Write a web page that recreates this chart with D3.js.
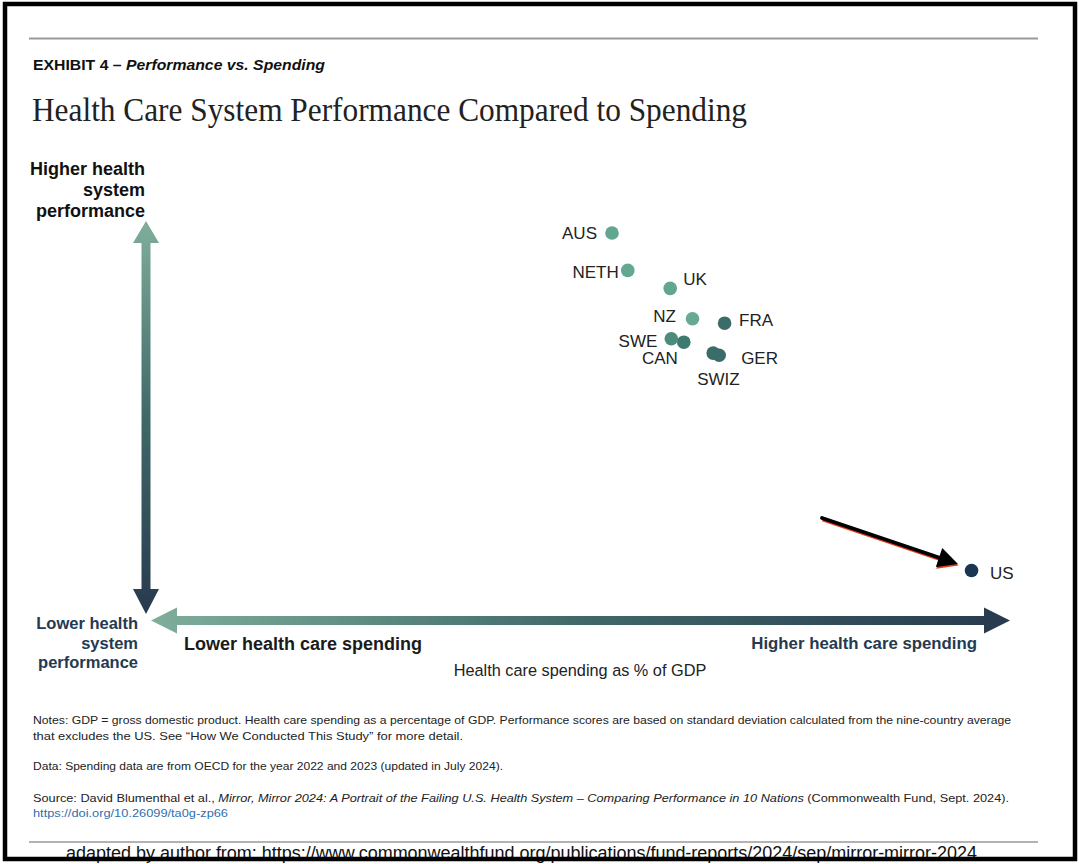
<!DOCTYPE html>
<html><head><meta charset="utf-8">
<script src="https://cdn.jsdelivr.net/npm/d3@7"></script>
<style>body{margin:0;background:#fff}svg{display:block}</style>
</head><body>
<script>
// ---- data ----
const countries = ["AUS","NETH","UK","NZ","FRA","SWE","CAN","SWIZ","GER","US"];
const spending  = [10.00, 10.29, 11.07, 11.48, 12.07, 11.09, 11.32, 11.86, 11.97, 16.61]; // % of GDP
const performance = [0.45, 0.20, 0.08, -0.123, -0.153, -0.257, -0.28, -0.353, -0.367, -1.807];
const pointColors = ["#62a590","#64a792","#62a590","#66a994","#3b6c68","#4c8b7b","#3f7a70","#3a6d69","#3a6d69","#1b3552"];
// label placement (layout only)
const labelDx = [-15, -9, 13, -16.5, 14.5, -14, -6, -16, 22, 18.5];
const labelDy = [6, 8, -3, 3.5, 3, 8.5, 22, 32, 9, 8];
const labelAnchor = ["end","end","start","end","start","end","end","start","start","start"];

const W = 1079, H = 864;
const svg = d3.select("body").append("svg").attr("width", W).attr("height", H)
  .style("font-family", "'Liberation Sans', Arial, sans-serif");

const x = d3.scaleLinear().domain([10, 16.6]).range([612, 971]);
const y = d3.scaleLinear().domain([-1.81, 0.45]).range([571, 233]);

const defs = svg.append("defs");
const gv = defs.append("linearGradient").attr("id","gv").attr("x1",0).attr("y1",0).attr("x2",0).attr("y2",1);
gv.append("stop").attr("offset","0%").attr("stop-color","#80ae9b");
gv.append("stop").attr("offset","50%").attr("stop-color","#3f6868");
gv.append("stop").attr("offset","100%").attr("stop-color","#283a4e");
const gh = defs.append("linearGradient").attr("id","gh").attr("x1",0).attr("y1",0).attr("x2",1).attr("y2",0);
gh.append("stop").attr("offset","0%").attr("stop-color","#80ae9b");
gh.append("stop").attr("offset","50%").attr("stop-color","#3f6868");
gh.append("stop").attr("offset","100%").attr("stop-color","#283a4e");

// top rule
svg.append("line").attr("x1",29).attr("x2",1038).attr("y1",38.5).attr("y2",38.5).attr("stroke","#9a9a9a").attr("stroke-width",2);

// exhibit label
const ex = svg.append("text").attr("x",33).attr("y",70).attr("font-size",15.5).attr("font-weight","bold").attr("fill","#111")
  .attr("textLength",292).attr("lengthAdjust","spacingAndGlyphs");
ex.append("tspan").text("EXHIBIT 4 – ");
ex.append("tspan").attr("font-style","italic").text("Performance vs. Spending");

// title
svg.append("text").attr("x",32).attr("y",121).attr("font-family","'Liberation Serif', 'DejaVu Serif', serif")
  .attr("font-size",33).attr("fill","#222").attr("textLength",715).attr("lengthAdjust","spacingAndGlyphs")
  .text("Health Care System Performance Compared to Spending");

// vertical double arrow
const vx = 146, vTop = 221, vBot = 614, sw = 4.5, hw = 13, hl = 22;
svg.append("path").attr("fill","url(#gv)").attr("d", d3.line()([
  [vx, vTop],[vx+hw, vTop+hl],[vx+sw, vTop+hl],[vx+sw, vBot-hl-3],[vx+hw, vBot-hl-3],[vx, vBot],
  [vx-hw, vBot-hl-3],[vx-sw, vBot-hl-3],[vx-sw, vTop+hl],[vx-hw, vTop+hl]]) + "Z");

// horizontal double arrow
const hy = 620.5, hL = 151, hR = 1010, hhl = 26;
svg.append("path").attr("fill","url(#gh)").attr("d", d3.line()([
  [hL, hy],[hL+hhl, hy-hw],[hL+hhl, hy-sw],[hR-hhl, hy-sw],[hR-hhl, hy-hw],[hR, hy],
  [hR-hhl, hy+hw],[hR-hhl, hy+sw],[hL+hhl, hy+sw],[hL+hhl, hy+hw]]) + "Z");

// axis labels
const hi = svg.append("text").attr("text-anchor","end").attr("font-size",18).attr("font-weight","bold").attr("fill","#111");
["Higher health","system","performance"].forEach((t,i)=>hi.append("tspan").attr("x",145).attr("y",175+i*21).text(t));
const lo = svg.append("text").attr("text-anchor","end").attr("font-size",16.5).attr("font-weight","bold").attr("fill","#253a50");
["Lower health","system","performance"].forEach((t,i)=>lo.append("tspan").attr("x",138).attr("y",629+i*19.5).text(t));
svg.append("text").attr("x",184).attr("y",650).attr("font-size",18).attr("font-weight","bold").attr("fill","#1a1a1a").text("Lower health care spending");
svg.append("text").attr("x",977).attr("y",649).attr("text-anchor","end").attr("font-size",16.8).attr("font-weight","bold").attr("fill","#253a50").text("Higher health care spending");
svg.append("text").attr("x",580).attr("y",676).attr("text-anchor","middle").attr("font-size",16.3).attr("fill","#222").text("Health care spending as % of GDP");

// annotation arrow pointing to US
const ax0 = 822, ay0 = 518, ax1 = 958, ay1 = 564;
const len = Math.hypot(ax1-ax0, ay1-ay0), ux = (ax1-ax0)/len, uy = (ay1-ay0)/len;
const bx = ax1 - ux*20, by = ay1 - uy*20;
svg.append("line").attr("x1",ax0+0.5).attr("y1",ay0+1.6).attr("x2",bx+0.5).attr("y2",by+1.6).attr("stroke","#e03a1e").attr("stroke-width",3.5);
svg.append("path").attr("fill","#e03a1e").attr("d", d3.line()([[ax1+0.5,ay1+1.6],[bx-uy*10+0.5,by+ux*10+1.6],[bx+uy*10+0.5,by-ux*10+1.6]])+"Z");
svg.append("line").attr("x1",ax0).attr("y1",ay0).attr("x2",bx+2).attr("y2",by+0.7).attr("stroke","#000").attr("stroke-width",3.8).attr("stroke-linecap","round");
svg.append("path").attr("fill","#000").attr("d", d3.line()([[ax1,ay1],[bx-uy*10,by+ux*10],[bx+uy*10,by-ux*10]])+"Z");

// points
const data = countries.map((c,i)=>({c, s:spending[i], p:performance[i], col:pointColors[i], dx:labelDx[i], dy:labelDy[i], a:labelAnchor[i]}));
svg.append("g").selectAll("circle").data(data).join("circle")
  .attr("cx", d=>x(d.s)).attr("cy", d=>y(d.p)).attr("r", 6.8).attr("fill", d=>d.col);
svg.append("g").selectAll("text").data(data).join("text")
  .attr("x", d=>x(d.s)+d.dx).attr("y", d=>y(d.p)+d.dy).attr("text-anchor", d=>d.a)
  .attr("font-size", 17).attr("fill","#222").text(d=>d.c);

// notes
const notes = svg.append("g").attr("font-size",11.8).attr("fill","#222");
notes.append("text").attr("x",33).attr("y",724).attr("textLength",978).attr("lengthAdjust","spacingAndGlyphs")
  .text("Notes: GDP = gross domestic product. Health care spending as a percentage of GDP. Performance scores are based on standard deviation calculated from the nine-country average");
notes.append("text").attr("x",33).attr("y",740).attr("textLength",430).attr("lengthAdjust","spacingAndGlyphs")
  .text("that excludes the US. See “How We Conducted This Study” for more detail.");
notes.append("text").attr("x",33).attr("y",770).attr("textLength",470).attr("lengthAdjust","spacingAndGlyphs")
  .text("Data: Spending data are from OECD for the year 2022 and 2023 (updated in July 2024).");
const src = notes.append("text").attr("x",33).attr("y",802).attr("textLength",976).attr("lengthAdjust","spacingAndGlyphs");
src.append("tspan").text("Source: David Blumenthal et al., ");
src.append("tspan").attr("font-style","italic").text("Mirror, Mirror 2024: A Portrait of the Failing U.S. Health System – Comparing Performance in 10 Nations");
src.append("tspan").text(" (Commonwealth Fund, Sept. 2024).");
notes.append("text").attr("x",33).attr("y",817).attr("fill","#2f6fae").attr("textLength",195).attr("lengthAdjust","spacingAndGlyphs")
  .text("https://doi.org/10.26099/ta0g-zp66");

// bottom rule and credit
svg.append("line").attr("x1",29).attr("x2",1038).attr("y1",842).attr("y2",842).attr("stroke","#9a9a9a").attr("stroke-width",1.5);
svg.append("text").attr("x",66).attr("y",859).attr("font-size",17.5).attr("fill","#111")
  .attr("textLength",911).attr("lengthAdjust","spacingAndGlyphs")
  .text("adapted by author from: https://www.commonwealthfund.org/publications/fund-reports/2024/sep/mirror-mirror-2024");

// frame
svg.append("rect").attr("x",5).attr("y",4).attr("width",1070).attr("height",855).attr("fill","none").attr("stroke","#000").attr("stroke-width",4.5);
</script>
</body></html>
